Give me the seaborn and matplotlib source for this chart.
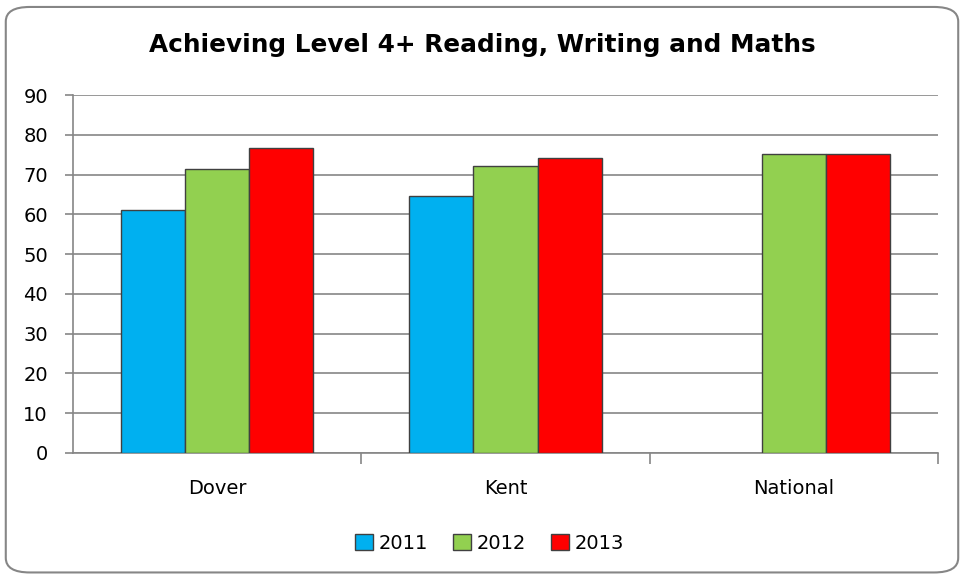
import pandas as pd
import numpy as np
from matplotlib import pyplot as plt
from matplotlib.patches import FancyBboxPatch
import seaborn as sns

areas = ["Dover", "Kent", "National"]
years = ["2011", "2012", "2013"]
val_2011 = [61.0, 64.7, np.nan]
val_2012 = [71.3, 72.1, 75.3]
val_2013 = [76.6, 74.3, 75.3]
colours = ["#00B0F0", "#92D050", "#FF0000"]

df = pd.DataFrame({
    "area": areas * 3,
    "year": [y for y in years for _ in areas],
    "value": val_2011 + val_2012 + val_2013,
})

sns.set_style("white")
plt.rcParams["font.family"] = ["DejaVu Sans"]
plt.rcParams["text.color"] = "black"

fig = plt.figure(figsize=(9.64, 5.8), dpi=100)
ax = fig.add_axes([0.0757, 0.219, 0.8973, 0.617])

sns.barplot(data=df, x="area", y="value", hue="year", hue_order=years,
            palette=colours, width=0.667, edgecolor="#404040", linewidth=1.0,
            saturation=1, errorbar=None, ax=ax, zorder=3)

ax.set_ylim(0, 90)
ax.set_xlim(-0.5, 2.5)
ax.set_yticks(range(0, 91, 10))
ax.set_xlabel("")
ax.set_ylabel("")
ax.yaxis.grid(True, color="#868686", linewidth=1.2, zorder=0)
ax.set_axisbelow(True)
for s in ["top", "right"]:
    ax.spines[s].set_visible(False)
for s in ["left", "bottom"]:
    ax.spines[s].set_color("#868686")
    ax.spines[s].set_linewidth(1.2)

# y ticks stick out to the left, x ticks only at the category boundaries
ax.tick_params(axis="y", direction="out", length=6, color="#868686", width=1.2,
               labelsize=14, left=True, pad=12, labelcolor="black")
ax.tick_params(axis="x", length=0, labelsize=14, pad=19, labelcolor="black")
ax.set_xticks([0.5, 1.5, 2.5], minor=True)
ax.tick_params(axis="x", which="minor", direction="out", length=8,
               color="#868686", width=1.2, bottom=True)

fig.text(0.5, 0.922, "Achieving Level 4+ Reading, Writing and Maths",
         ha="center", va="center", fontsize=17.8, fontweight="bold",
         color="black")

handles, labels = ax.get_legend_handles_labels()
leg = ax.legend(handles, labels, loc="center", bbox_to_anchor=(0.508, 0.063),
                bbox_transform=fig.transFigure, ncol=3, frameon=False,
                fontsize=14, handlelength=0.9, handleheight=0.9,
                handletextpad=0.3, columnspacing=1.3)
for t in leg.get_texts():
    t.set_color("black")

border = FancyBboxPatch((0.006, 0.013), 0.988, 0.975,
                        boxstyle="round,pad=0,rounding_size=0.025",
                        transform=fig.transFigure, fill=False,
                        edgecolor="#868686", linewidth=1.5)
fig.patches.append(border)

plt.savefig("out.png", dpi=100)
